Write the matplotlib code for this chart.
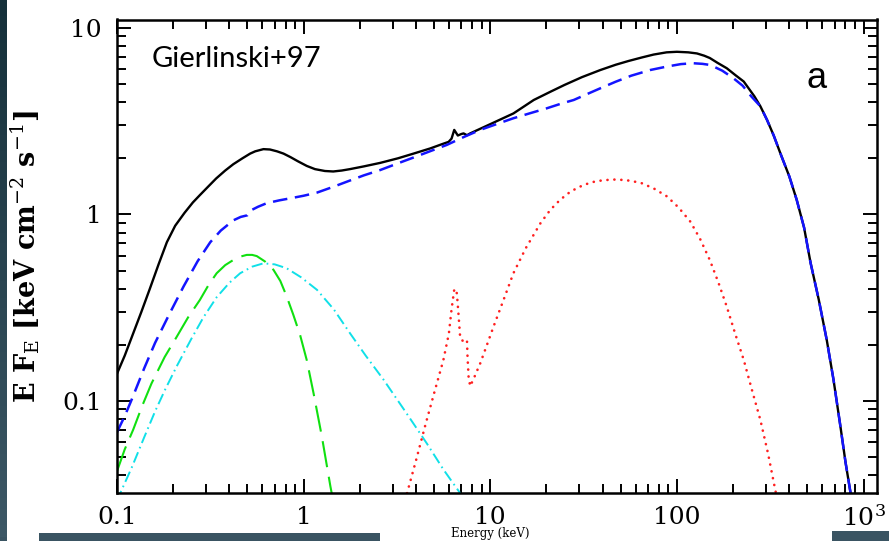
import numpy as np
import matplotlib
matplotlib.use('Agg')
import matplotlib.pyplot as plt
from matplotlib.ticker import FuncFormatter, NullFormatter, LogLocator

plt.rcParams['mathtext.fontset'] = 'dejavuserif'
plt.rcParams['lines.scale_dashes'] = False

# ---- data (energy in keV, E F_E) ----
tot_e = [0.1, 0.11, 0.12, 0.135, 0.15, 0.167, 0.185, 0.205, 0.23, 0.255, 0.278, 0.31,
         0.34, 0.38, 0.42, 0.47, 0.517, 0.55, 0.609, 0.66, 0.72, 0.78, 0.85, 0.93, 1.04,
         1.15, 1.3, 1.44, 1.6, 1.77, 2.1, 2.57, 3.2, 3.88, 4.77, 5.5, 5.98, 6.2, 6.41, 6.7,
         7.0, 7.19, 7.5, 7.8, 10, 13.3, 17.1, 21, 25, 31, 38.9, 47, 55, 65, 75, 88, 100,
         115, 128, 140, 150, 165, 185, 205, 228, 260, 280, 304, 330, 360, 400, 438, 480,
         520, 575, 635, 690, 750, 800, 852, 900]
tot_f = [0.14, 0.175, 0.22, 0.30, 0.40, 0.54, 0.71, 0.87, 1.02, 1.16, 1.27, 1.42,
         1.56, 1.72, 1.86, 2.0, 2.12, 2.18, 2.24, 2.23, 2.18, 2.12, 2.03, 1.93, 1.82,
         1.75, 1.71, 1.70, 1.72, 1.75, 1.81, 1.89, 2.0, 2.12, 2.26, 2.38, 2.45, 2.55, 2.84, 2.65,
         2.70, 2.72, 2.66, 2.72, 3.05, 3.48, 4.11, 4.55, 4.95, 5.45, 5.95, 6.35, 6.65, 6.95, 7.2, 7.4, 7.45,
         7.4, 7.3, 7.1, 6.9, 6.5, 6.08, 5.6, 5.16, 4.3, 3.8, 3.21, 2.65, 2.1, 1.6, 1.2, 0.85,
         0.55, 0.35, 0.212, 0.13, 0.074, 0.047, 0.032, 0.02]

comp_e = [0.1, 0.11, 0.12, 0.14, 0.16, 0.19, 0.227, 0.27, 0.316, 0.36, 0.42, 0.46, 0.50,
          0.52, 0.57, 0.635, 0.74, 0.846, 1.0, 1.18, 1.45, 1.77, 2.1, 2.57, 3.2, 3.88, 4.8,
          5.85, 7.2, 8.83, 11, 13.3, 16.5, 20.1, 24, 28, 33, 38.9, 47, 57, 72, 88.4, 105,
          122, 137, 151, 175, 201, 225, 250, 280, 304, 330, 360, 400, 438, 480, 520, 575,
          635, 690, 750, 800, 852, 900]
comp_f = [0.068, 0.083, 0.102, 0.15, 0.205, 0.29, 0.41, 0.56, 0.71, 0.82, 0.93, 0.97, 0.99,
          1.05, 1.10, 1.15, 1.19, 1.22, 1.26, 1.31, 1.41, 1.52, 1.62, 1.73, 1.88, 2.02, 2.19,
          2.36, 2.6, 2.84, 3.07, 3.28, 3.5, 3.71, 3.93, 4.11, 4.42, 4.75, 5.15, 5.55, 5.95, 6.21, 6.4,
          6.47, 6.42, 6.33, 5.9, 5.37, 4.9, 4.3, 3.8, 3.21, 2.65, 2.1, 1.6, 1.2, 0.85, 0.55, 0.35,
          0.212, 0.13, 0.074, 0.047, 0.032, 0.02]

disk_e = [0.1, 0.11, 0.122, 0.137, 0.153, 0.18, 0.209, 0.24, 0.278, 0.31, 0.342, 0.38,
          0.42, 0.46, 0.496, 0.53, 0.561, 0.62, 0.689, 0.75, 0.81, 0.88, 0.958, 1.04, 1.13,
          1.25, 1.39, 1.45]
disk_f = [0.042, 0.055, 0.070, 0.095, 0.124, 0.172, 0.221, 0.28, 0.348, 0.42, 0.484, 0.535,
          0.57, 0.595, 0.607, 0.607, 0.598, 0.56, 0.505, 0.44, 0.365, 0.29, 0.225, 0.165, 0.11,
          0.065, 0.035, 0.028]

soft_e = [0.1, 0.104, 0.12, 0.14, 0.16, 0.181, 0.21, 0.25, 0.29, 0.342, 0.40, 0.457, 0.53,
          0.609, 0.70, 0.81, 0.97, 1.18, 1.45, 1.77, 2.15, 2.68, 3.5, 4.58, 5.6, 6.9, 7.2]
soft_f = [0.029, 0.032, 0.044, 0.064, 0.088, 0.115, 0.155, 0.215, 0.28, 0.36, 0.43, 0.484, 0.525,
          0.547, 0.54, 0.515, 0.46, 0.394, 0.31, 0.231, 0.175, 0.13, 0.088, 0.059, 0.043,
          0.032, 0.029]

refl_e = [3.58, 4.0, 4.5, 5.0, 5.6, 6.0, 6.2, 6.42, 6.62, 6.75, 6.9, 7.19, 7.5, 7.55, 7.65,
          7.8, 8.13, 8.83, 9.6, 10.4, 11.8, 13.3, 15.5, 18.6, 21, 23.7, 27, 31.6, 37, 44.9,
          53, 63.8, 75, 88.4, 102, 118, 133, 150, 167, 185, 205, 228, 252, 280, 308, 337, 345]
refl_f = [0.032, 0.048, 0.075, 0.11, 0.165, 0.23, 0.31, 0.40, 0.378, 0.295, 0.217, 0.208,
          0.212, 0.173, 0.135, 0.12, 0.131, 0.159, 0.2, 0.25, 0.35, 0.484, 0.66, 0.90, 1.06,
          1.20, 1.33, 1.44, 1.51, 1.54, 1.53, 1.48, 1.38, 1.25, 1.09, 0.915, 0.74, 0.57, 0.43,
          0.32, 0.23, 0.166, 0.115, 0.079, 0.052, 0.033, 0.03]

x_labels = {0.1: '0.1', 1: '1', 10: '10', 100: '100', 1000: '$10^3$'}
y_labels = {0.1: '0.1', 1: '1', 10: '10'}

fig = plt.figure(figsize=(8.89, 5.41), dpi=100)
ax = fig.add_axes([117 / 889, 48 / 541, 760 / 889, 473.5 / 541])

ax.plot(tot_e, tot_f, color='black', lw=1.7)
ax.plot(comp_e, comp_f, color='#1414ff', lw=1.8, dashes=(10.5, 5.5))
ax.plot(disk_e, disk_f, color='#10e010', lw=1.5, dashes=(19, 7))
ax.plot(soft_e, soft_f, color='#10e0e8', lw=1.4, dashes=(8, 3, 1.2, 3))
ax.plot(refl_e, refl_f, color='#ff2020', lw=1.9, dashes=(0.1, 4.9), dash_capstyle='round')

ax.set_xscale('log')
ax.set_yscale('log')
ax.set_xlim(0.1, 1180)
ax.set_ylim(0.0321, 11.1)

ax.xaxis.set_major_locator(LogLocator(base=10, numticks=10))
ax.yaxis.set_major_locator(LogLocator(base=10, numticks=10))
ax.xaxis.set_major_formatter(FuncFormatter(lambda v, p: x_labels.get(round(v, 4), '')))
ax.yaxis.set_major_formatter(FuncFormatter(lambda v, p: y_labels.get(round(v, 4), '')))
ax.xaxis.set_minor_formatter(NullFormatter())
ax.yaxis.set_minor_formatter(NullFormatter())

ax.tick_params(which='both', direction='in', top=True, right=True, width=1.4, colors='black')
ax.tick_params(which='major', length=10)
ax.tick_params(which='minor', length=6.5)
ax.tick_params(axis='x', which='major', pad=9, labelsize=18)
ax.tick_params(axis='y', which='major', pad=11, labelsize=18)
for lab in ax.get_xticklabels() + ax.get_yticklabels():
    lab.set_family('DejaVu Serif')
for s in ax.spines.values():
    s.set_linewidth(1.8)

fig.text(25 / 889, 0.525, r'E F$_{\rm E}$ [keV cm$^{-2}$ s$^{-1}$]', rotation=90,
         ha='center', va='center', fontsize=19.5, family='DejaVu Serif', fontweight='bold')
ax.text(0.045, 0.945, 'Gierlinski+97', transform=ax.transAxes, fontsize=21,
        family='Lato', ha='left', va='top')
ax.text(0.92, 0.875, 'a', transform=ax.transAxes, fontsize=26, family='Liberation Sans',
        ha='center', va='center')

# axis title, mostly hidden under the slide edge in the original
fig.text(490 / 889, 1.5 / 541, 'Energy (keV)', ha='center', va='bottom', fontsize=8.5,
         family='DejaVu Serif')

# dark slide background showing around the chart
bg = fig.add_axes([0, 0, 1, 1], zorder=-5)
bg.set_xlim(0, 889)
bg.set_ylim(541, 0)
bg.axis('off')
grad = np.linspace(0, 1, 100).reshape(-1, 1)
bg.imshow(grad, extent=[0, 7, 541, 0], aspect='auto',
          cmap=matplotlib.colors.LinearSegmentedColormap.from_list('s', ['#15303a', '#3d5866']))
top = fig.add_axes([0, 0, 1, 1], zorder=10)
top.set_xlim(0, 889)
top.set_ylim(541, 0)
top.axis('off')
top.add_patch(plt.Rectangle((39, 533), 341, 8, color='#3a5462', lw=0))
top.add_patch(plt.Rectangle((832, 531), 57, 10, color='#3a5462', lw=0))
top.add_patch(plt.Rectangle((0, 537), 7, 4, color='#3a5462', lw=0))

fig.savefig('out.png', dpi=100)
